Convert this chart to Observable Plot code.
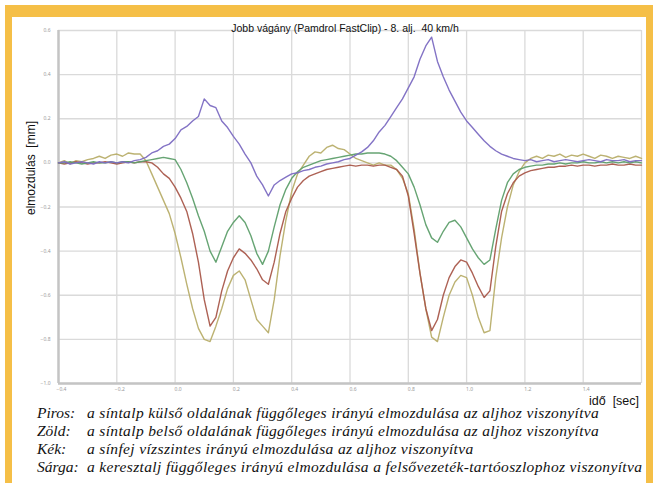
<!DOCTYPE html>
<html>
<head>
<meta charset="utf-8">
<script src="https://cdn.jsdelivr.net/npm/d3@7"></script>
<script src="https://cdn.jsdelivr.net/npm/@observablehq/plot@0.6"></script>
<style>
  html, body { margin: 0; padding: 0; background: #fff; }
  #page { position: relative; width: 653px; height: 483px; overflow: hidden; background: #fff; }
  .band { position: absolute; background: #f5bf47; }
  #chart { position: absolute; left: 0; top: 0; }
  .lbl { position: absolute; font-family: "Liberation Sans", Arial, sans-serif; color: #111; white-space: pre; }
  #title { left: 0; width: 690px; top: 22px; text-align: center; font-size: 10.5px; }
  #ylab { left: 31px; top: 168px; font-size: 12px; transform: translate(-50%, -50%) rotate(-90deg); }
  #xlab { left: 589px; top: 394px; font-size: 12.5px; }
  #caption { position: absolute; left: 37px; top: 404px; font-family: "Liberation Serif", "Times New Roman", serif; font-style: italic; font-size: 15.5px; line-height: 18px; color: #111; }
  #caption .row { white-space: nowrap; }
  #caption .k { display: inline-block; width: 50px; }
  #caption .t { letter-spacing: 0.35px; }
</style>
</head>
<body>
<div id="page">
  <div class="band" style="left:5px; top:5px; width:648px; height:12px;"></div>
  <div class="band" style="left:5px; top:5px; width:7px; height:478px;"></div>
  <div class="band" style="left:646px; top:5px; width:7px; height:478px;"></div>
  <div id="chart"></div>
  <div class="lbl" id="title">Jobb vágány (Pamdrol FastClip) - 8. alj.  40 km/h</div>
  <div class="lbl" id="ylab">elmozdulás  [mm]</div>
  <div class="lbl" id="xlab">idő  [sec]</div>
  <div id="caption"></div>
</div>
<script>
// ---- data ----
const time = [
  -0.40,-0.38,-0.36,-0.34,-0.32,-0.30,-0.28,-0.26,-0.24,-0.22,
  -0.20,-0.18,-0.16,-0.14,-0.12,-0.10,-0.08,-0.06,-0.04,-0.02,
   0.00, 0.02, 0.04, 0.06, 0.08, 0.10, 0.12, 0.14, 0.16, 0.18,
   0.20, 0.22, 0.24, 0.26, 0.28, 0.30, 0.32, 0.34, 0.36, 0.38,
   0.40, 0.42, 0.44, 0.46, 0.48, 0.50, 0.52, 0.54, 0.56, 0.58,
   0.60, 0.62, 0.64, 0.66, 0.68, 0.70, 0.72, 0.74, 0.76, 0.78,
   0.80, 0.82, 0.84, 0.86, 0.88, 0.90, 0.92, 0.94, 0.96, 0.98,
   1.00, 1.02, 1.04, 1.06, 1.08, 1.10, 1.12, 1.14, 1.16, 1.18,
   1.20, 1.22, 1.24, 1.26, 1.28, 1.30, 1.32, 1.34, 1.36, 1.38,
   1.40, 1.42, 1.44, 1.46, 1.48, 1.50, 1.52, 1.54, 1.56, 1.58, 1.60
];
// Kék: sínfej vízszintes elmozdulása
const kek = [
  0.0, 0.005, -0.005, 0.0, 0.005, 0.0, -0.005, 0.005, 0.0, 0.005, 0.0, 0.005, 0.0, 0.01,
  0.015, 0.025, 0.045, 0.055, 0.075, 0.085,
  0.11, 0.15, 0.165, 0.19, 0.21, 0.29, 0.26, 0.25, 0.19, 0.16,
  0.12, 0.085, 0.04, 0.0, -0.06, -0.10, -0.15, -0.10, -0.08, -0.065,
  -0.05, -0.045, -0.035, -0.03, -0.02, -0.015, -0.005, 0.0, 0.005, 0.015,
  0.02, 0.035, 0.05, 0.07, 0.10, 0.14, 0.17, 0.21, 0.25, 0.29,
  0.34, 0.39, 0.47, 0.53, 0.57, 0.46, 0.39, 0.33, 0.28, 0.23,
  0.19, 0.16, 0.13, 0.10, 0.075, 0.055, 0.04, 0.03, 0.02, 0.015,
  0.01, 0.015, 0.005, 0.01, 0.015, 0.005, 0.01, 0.015, 0.01, 0.005,
  0.01, 0.015, 0.01, 0.005, 0.015, 0.01, 0.01, 0.015, 0.005, 0.01, 0.01
];
// Zöld: síntalp belső oldal
const zold = [
  0.0, 0.0, 0.005, 0.0, -0.005, 0.0, 0.005, 0.0, 0.0, 0.005, 0.0, 0.005, 0.005, 0.0,
  0.005, 0.01, 0.015, 0.02, 0.025, 0.02,
  0.015, -0.03, -0.09, -0.16, -0.24, -0.31, -0.40, -0.45, -0.38, -0.31,
  -0.27, -0.24, -0.27, -0.33, -0.41, -0.46, -0.40, -0.29, -0.19, -0.12,
  -0.07, -0.04, -0.02, -0.01, 0.0, 0.01, 0.015, 0.02, 0.025, 0.03,
  0.035, 0.04, 0.04, 0.045, 0.045, 0.045, 0.04, 0.03, 0.01, -0.02,
  -0.05, -0.11, -0.19, -0.28, -0.34, -0.36, -0.31, -0.27, -0.26, -0.29,
  -0.34, -0.39, -0.43, -0.46, -0.44, -0.30, -0.17, -0.09, -0.05, -0.03,
  -0.02, -0.015, -0.01, -0.01, -0.005, -0.005, 0.0, -0.005, 0.0, 0.0,
  0.005, 0.0, 0.0, 0.005, 0.0, 0.005, 0.0, 0.005, 0.0, 0.005, 0.0
];
// Piros: síntalp külső oldal
const piros = [
  0.0, -0.005, 0.0, 0.005, 0.0, -0.005, 0.0, 0.0, 0.005, 0.0, -0.005, 0.0, 0.005, 0.0, 0.005,
  0.005, 0.0, -0.02, -0.05, -0.07,
  -0.11, -0.16, -0.22, -0.32, -0.45, -0.62, -0.74, -0.70, -0.58, -0.49,
  -0.43, -0.39, -0.41, -0.44, -0.48, -0.53, -0.55, -0.45, -0.32, -0.22,
  -0.16, -0.11, -0.08, -0.06, -0.05, -0.04, -0.03, -0.025, -0.02, -0.015,
  -0.01, -0.015, -0.01, -0.01, -0.015, -0.01, -0.01, -0.02, -0.03, -0.06,
  -0.15, -0.32, -0.50, -0.66, -0.76, -0.71, -0.60, -0.52, -0.47, -0.44,
  -0.45, -0.50, -0.56, -0.61, -0.58, -0.38, -0.22, -0.14, -0.09, -0.06,
  -0.045, -0.035, -0.03, -0.025, -0.02, -0.02, -0.015, -0.015, -0.01, -0.015,
  -0.01, -0.01, -0.015, -0.01, -0.01, -0.005, -0.01, -0.01, -0.005, -0.01, -0.01
];
// Sárga: keresztalj függőleges elmozdulása
const sarga = [
  0.0, 0.01, -0.005, 0.01, 0.005, 0.015, 0.02, 0.03, 0.02, 0.035, 0.04, 0.03, 0.045, 0.04,
  0.04, 0.01, -0.05, -0.11, -0.17, -0.23,
  -0.32, -0.43, -0.55, -0.66, -0.75, -0.80, -0.81, -0.74, -0.66, -0.57,
  -0.51, -0.49, -0.53, -0.62, -0.71, -0.74, -0.77, -0.62, -0.42, -0.26,
  -0.13, -0.05, -0.01, 0.03, 0.05, 0.045, 0.07, 0.08, 0.065, 0.06,
  0.04, 0.02, 0.01, 0.0, -0.01, 0.0, -0.01, -0.01, -0.03, -0.07,
  -0.14, -0.30, -0.50, -0.66, -0.79, -0.81, -0.70, -0.60, -0.54, -0.51,
  -0.52, -0.60, -0.70, -0.77, -0.76, -0.52, -0.34, -0.20, -0.10, -0.04,
  0.0, 0.02, 0.03, 0.02, 0.035, 0.03, 0.04, 0.025, 0.035, 0.03,
  0.04, 0.03, 0.02, 0.035, 0.03, 0.02, 0.03, 0.025, 0.02, 0.03, 0.02
];
const xTicks = [-0.4, -0.2, 0.0, 0.2, 0.4, 0.6, 0.8, 1.0, 1.2, 1.4];
const xGrid = [-0.4, -0.2, 0.0, 0.2, 0.4, 0.6, 0.8, 1.0, 1.2, 1.4, 1.6];
const yTicks = [0.6, 0.4, 0.2, 0.0, -0.2, -0.4, -0.6, -0.8, -1.0];
const seriesNames = ["Sárga", "Piros", "Zöld", "Kék"];
const seriesColors = ["#b8ae6a", "#a9584b", "#5e9f6c", "#7c6cc2"];
const captionKeys = ["Piros:", "Zöld:", "Kék:", "Sárga:"];
const captionTexts = [
  "a síntalp külső oldalának függőleges irányú elmozdulása az aljhoz viszonyítva",
  "a síntalp belső oldalának függőleges irányú elmozdulása az aljhoz viszonyítva",
  "a sínfej vízszintes irányú elmozdulása az aljhoz viszonyítva",
  "a keresztalj függőleges irányú elmozdulása a felsővezeték-tartóoszlophoz viszonyítva"
];

const seriesValues = [sarga, piros, zold, kek];
const fmt = d3.format(".1f");

const lineMarks = seriesValues.map((vals, k) =>
  Plot.line(time.map((t, i) => ({t, v: vals[i]})), {
    x: "t", y: "v", stroke: seriesColors[k], strokeWidth: 1.4, strokeOpacity: 0.95
  })
);

const chart = Plot.plot({
  width: 653,
  height: 410,
  marginLeft: 58,
  marginRight: 12,
  marginTop: 30,
  marginBottom: 27,
  style: {background: "transparent", overflow: "visible"},
  x: {domain: [-0.4, 1.6], label: null},
  y: {domain: [-1.0, 0.6], label: null},
  marks: [
    Plot.gridX(xGrid, {stroke: "#dadada", strokeOpacity: 1, strokeWidth: 1.3}),
    Plot.gridY(yTicks, {stroke: "#dadada", strokeOpacity: 1, strokeWidth: 1.3}),
    Plot.ruleX([-0.4], {stroke: "#c4c4c4", strokeWidth: 2.5}),
    Plot.ruleY([-1.0], {stroke: "#c4c4c4", strokeWidth: 2.5}),
    Plot.axisX(xTicks, {tickSize: 0, tickPadding: 4, fontSize: 5, fill: "#9a9a9a", tickFormat: fmt, dx: 3, label: null}),
    Plot.axisY(yTicks, {tickSize: 0, tickPadding: 8, fontSize: 5, fill: "#9a9a9a", tickFormat: fmt, label: null}),
    ...lineMarks
  ]
});
document.getElementById("chart").appendChild(chart);

const cap = document.getElementById("caption");
captionKeys.forEach((k, i) => {
  const row = document.createElement("div");
  row.className = "row";
  const a = document.createElement("span");
  a.className = "k";
  a.textContent = k;
  const b = document.createElement("span");
  b.className = "t";
  b.textContent = captionTexts[i];
  row.appendChild(a);
  row.appendChild(b);
  cap.appendChild(row);
});
</script>
</body>
</html>
